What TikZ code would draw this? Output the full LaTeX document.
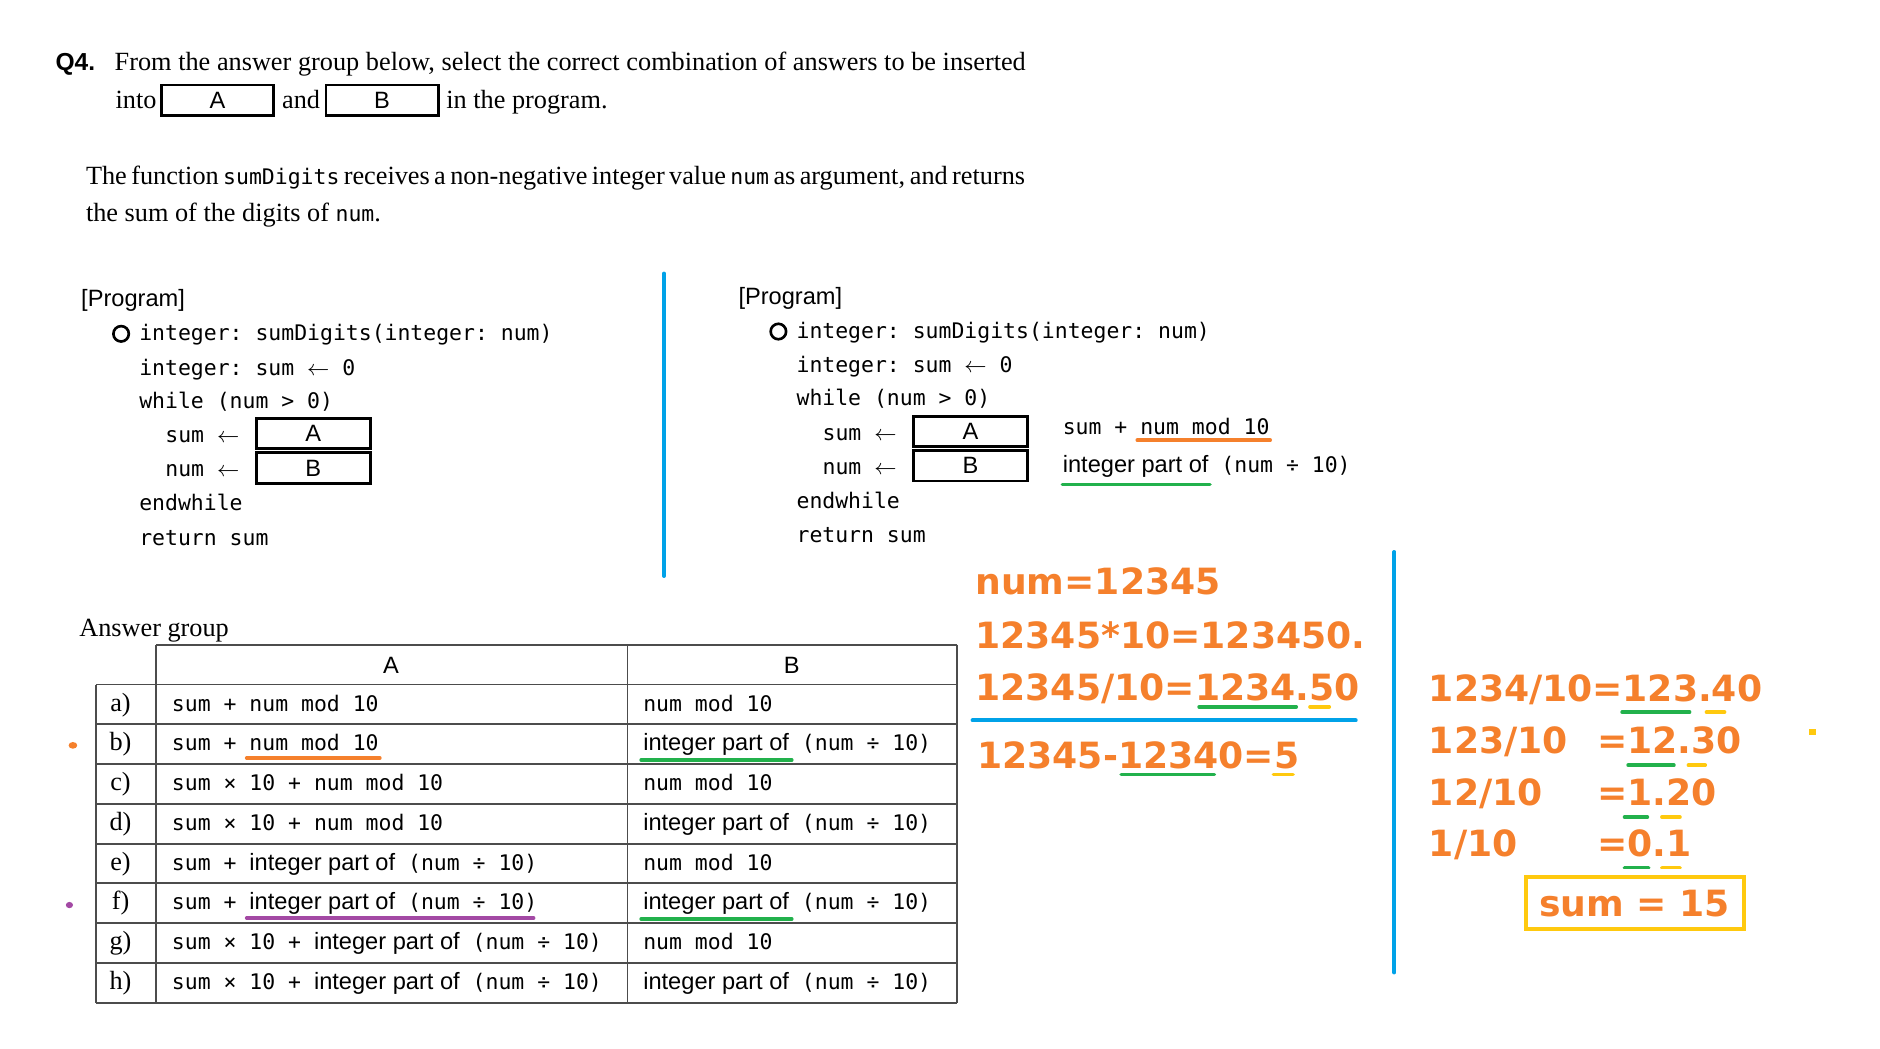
\documentclass[tikz,border=0pt]{standalone}
\usepackage{fontspec}
\setmainfont{Liberation Serif}
\setsansfont{Liberation Sans}
\setmonofont{DejaVu Sans Mono}
\newfontfamily\markfont{DejaVu Sans}

% pen colours of the notes
\definecolor{penorange}{RGB}{245,128,44}
\definecolor{penblue}{RGB}{0,162,232}
\definecolor{pengreen}{RGB}{34,177,76}
\definecolor{penyellow}{RGB}{255,201,14}
\definecolor{penpurple}{RGB}{163,73,164}

\newcommand{\cd}[1]{{\ttfamily\fontsize{8.9pt}{10pt}\selectfont #1}}
\newcommand{\larr}{\ensuremath{\leftarrow}}
\newcommand{\ipo}{{\sffamily\fontsize{9.8pt}{11pt}\selectfont integer part of}}
\newcommand{\nummod}{\cd{num mod 10}}
\newcommand{\intpart}{\ipo\cd{ (num ÷ 10)}}
\newcommand{\serif}{\fontsize{10.9pt}{13pt}\selectfont}
\newcommand{\hand}{\markfont\bfseries\fontsize{15pt}{18pt}\selectfont\color{penorange}}

\begin{document}
\begin{tikzpicture}[x=0.5pt,y=-0.5pt,
  txt/.style={inner sep=0pt,anchor=base west},
  blank/.style={draw,line width=1.2pt,inner sep=0pt,minimum width=47.5pt,minimum height=12.5pt,
    font=\sffamily\fontsize{9.8pt}{11pt}\selectfont},
  tbl/.style={line width=0.8pt,black!70},
  hl/.style={line width=1.5pt,line cap=round},
  blueline/.style={penblue,line width=1.6pt,line cap=round}]

\useasboundingbox (0,0) rectangle (1560,870);

% Question text
\node[txt] (qnum) at (45.7,58.7) {\sffamily\bfseries\fontsize{10.2pt}{12pt}\selectfont Q4.};
\node[txt] (qline) at (94.8,58.7) {\serif\makebox[378pt][s]{From the answer group below, select the correct combination of answers to be inserted}};
\node[txt] (qinto) at (95.5,90) {\serif into};
\node[blank,minimum width=46.5pt] (qa) at (180.5,83) {A};
\node[txt] (qand) at (233.7,90) {\serif and};
\node[blank,minimum width=46.5pt] (qb) at (317,83) {B};
\node[txt] (qend) at (370,90) {\serif in the program.};
\node[txt] (desc1) at (71,153.5) {\serif\makebox[389pt][s]{The function \cd{sumDigits} receives a non-negative integer value \cd{num} as argument, and returns}};
\node[txt] (desc2) at (71,184) {\serif the sum of the digits of \cd{num}.};

% The two program listings (left original, right copy)
\foreach \dx/\dy/\p in {0/0/l,545.4/-1.9/r}{
\begin{scope}[shift={(\dx,\dy)}]
  \node[txt] (\p head) at (67,254.5) {\sffamily\fontsize{9.8pt}{11pt}\selectfont [Program]};
  \node[draw,circle,line width=1.1pt,inner sep=0pt,minimum size=6.4pt] (\p dot) at (100.5,277) {};
  \node[txt] (\p sig) at (115.2,282.7) {\cd{integer: sumDigits(integer: num)}};
  \node[txt] (\p init) at (115.2,311.2) {\cd{integer: sum \larr{} 0}};
  \node[txt] (\p loop) at (115.2,338.8) {\cd{while (num > 0)}};
  \node[txt] (\p suma) at (136.8,367.4) {\cd{sum \larr}};
  \node[txt] (\p numb) at (136.8,395.6) {\cd{num \larr}};
  \node[txt] (\p endl) at (115.2,423.8) {\cd{endwhile}};
  \node[txt] (\p ret) at (115.2,452.3) {\cd{return sum}};
  \node[blank] (\p boxa) at (260,360) {A};
  \node[blank,minimum height=12.7pt] (\p boxb) at (260,388.3) {B};
\end{scope}}

% notes next to the right listing
\node[txt] (notea) at (881.5,360.2) {\cd{sum + num mod 10}};
\node[txt] (noteb) at (881.5,392.3) {\intpart};
\draw[hl,penorange] (943.7,365.3) -- (1054,365.3);
\draw[hl,pengreen] (881.5,402) -- (1004,402);

% blue separators
\draw[blueline] (551,227) -- (551,478);
\draw[blueline] (1157,458) -- (1157,807);
\draw[blueline] (807,597.8) -- (1125,597.8);

% Answer group table
\node[txt] (agroup) at (65.4,528) {\serif Answer group};
\draw[tbl] (129.5,535) -- (794,535);
\foreach \y in {568,601,...,832} \draw[tbl] (79.6,\y) -- (794,\y);
\draw[tbl] (79.6,568) -- (79.6,832);
\foreach \x in {129.5,520.7,794} \draw[tbl] (\x,535) -- (\x,832);
\node[anchor=base,inner sep=0pt] (hA) at (324.5,558.5) {\sffamily\fontsize{9.8pt}{11pt}\selectfont A};
\node[anchor=base,inner sep=0pt] (hB) at (657,558.5) {\sffamily\fontsize{9.8pt}{11pt}\selectfont B};

\foreach \lab/\ca/\cb [count=\i from 0] in {
    a/{\cd{sum + num mod 10}}/{\nummod},
    b/{\cd{sum + num mod 10}}/{\intpart},
    c/{\cd{sum × 10 + num mod 10}}/{\nummod},
    d/{\cd{sum × 10 + num mod 10}}/{\intpart},
    e/{\cd{sum + }\intpart}/{\nummod},
    f/{\cd{sum + }\intpart}/{\intpart},
    g/{\cd{sum × 10 + }\intpart}/{\nummod},
    h/{\cd{sum × 10 + }\intpart}/{\intpart}}{
  \node[anchor=base,inner sep=0pt] (row\lab) at (100,590+33*\i) {\serif \lab)};
  \node[txt] (ca\lab) at (142.3,590+33*\i) {\ca};
  \node[txt] (cb\lab) at (533.4,590+33*\i) {\cb};
}

% marks on the chosen rows
\draw[hl,penorange] (204.7,629) -- (315.2,629);
\draw[hl,pengreen] (532,630.7) -- (657,630.7);
\draw[hl,penpurple] (204.7,761.8) -- (442.8,761.8);
\draw[hl,pengreen] (532,762.6) -- (657,762.6);
\fill[penorange] (60.5,618.5) ellipse [x radius=1.8pt,y radius=1.4pt];
\fill[penpurple] (57.6,751) ellipse [x radius=1.5pt,y radius=1.3pt];

% worked example
\node[txt] (ex1) at (809,493) {\hand num=12345};
\node[txt] (ex2) at (809,538) {\hand 12345*10=123450.};
\node[txt] (ex3) at (809,581.5) {\hand 12345/10=1234.50};
\node[txt] (ex4) at (810.5,637.6) {\hand 12345-12340=5};
\draw[hl,pengreen] (995,586.5) -- (1075.6,586.5);
\draw[hl,penyellow] (1087,586.5) -- (1103,586.5);
\draw[hl,pengreen] (930.3,642.6) -- (1007.7,642.6);
\draw[hl,penyellow] (1056.6,642.6) -- (1073,642.6);

% repeated division
\node[txt] (div1) at (1185.3,582.3) {\hand 1234/10};
\node[txt] (res1) at (1321,582.3) {\hand =123.40};
\node[txt] (div2) at (1185.3,625.2) {\hand 123/10};
\node[txt] (res2) at (1325,625.2) {\hand =12.30};
\node[txt] (div3) at (1185.3,668) {\hand 12/10};
\node[txt] (res3) at (1325,668) {\hand =1.20};
\node[txt] (div4) at (1185.3,711) {\hand 1/10};
\node[txt] (res4) at (1325,711) {\hand =0.1};
\draw[hl,pengreen] (1346,591) -- (1402,591);
\draw[hl,penyellow] (1416,591) -- (1431,591);
\draw[hl,pengreen] (1351,635) -- (1389,635);
\draw[hl,penyellow] (1401,635) -- (1415,635);
\draw[hl,pengreen] (1348,678) -- (1367,678);
\draw[hl,penyellow] (1379,678) -- (1394,678);
\draw[hl,pengreen] (1348,720) -- (1368,720);
\draw[hl,penyellow] (1379,720) -- (1394,720);
\fill[penyellow] (1501,605) rectangle (1507,610);

\node[draw=penyellow,line width=1.65pt,inner sep=0pt,minimum width=90.5pt,minimum height=21.5pt] (total) at (1356.5,749.5) {\hand sum = 15};

\end{tikzpicture}
\end{document}
